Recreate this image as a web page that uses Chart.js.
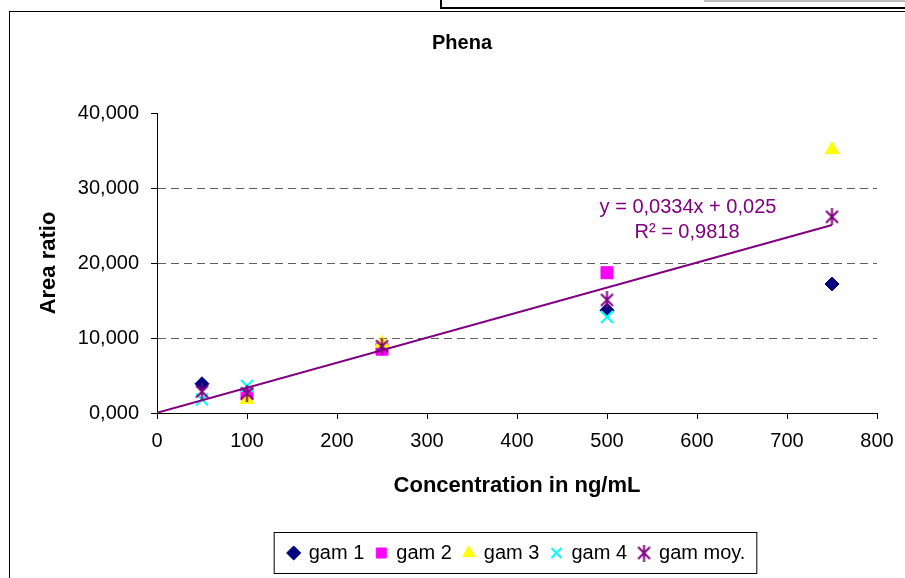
<!DOCTYPE html>
<html>
<head>
<meta charset="utf-8">
<title>Phena</title>
<script src="https://cdn.jsdelivr.net/npm/chart.js@4.4.0/dist/chart.umd.min.js"></script>
<style>
    html, body { margin: 0; padding: 0; background: #fff; }
    #wrap { position: relative; width: 905px; height: 578px; overflow: hidden; }
    .frame { position: absolute; left: 9px; top: 11px; width: 1000px; height: 700px; border: 1px solid #000; }
    .topbox { position: absolute; left: 440px; top: -4px; width: 600px; height: 9px; border: 2px solid #000; }
    .grayline { position: absolute; left: 704px; top: 0; width: 201px; height: 2px; background: #c0c0c0; }
    canvas { position: absolute; left: 0; top: 0; }
</style>
</head>
<body>
<div id="wrap">
    <div class="frame"></div>
    <div class="topbox"></div>
    <div class="grayline"></div>
    <canvas id="mainChart" width="905" height="578"></canvas>
</div>
<script>
// concentrations (ng/mL) and area ratios, null = no point
const concentrations = [50, 100, 250, 500, 750];
const gam1 = [3.9, null, null, 13.7, 17.2];
const gam2 = [null, 2.5, 8.5, 18.7, null];
const gam3 = [null, 1.8, 9.3, null, 35.1];
const gam4 = [1.8, 3.6, null, 12.8, null];
const gamMoy = [2.85, 2.63, 8.9, 15.07, 26.15];

// trendline ends, from the printed equation
const trendX = [0, 750];
const trendY = [0.025, 25.075];

const xTicks = [0, 100, 200, 300, 400, 500, 600, 700, 800];
const yTicks = [0, 10, 20, 30, 40];

const FONT = "'Liberation Sans', Arial, sans-serif";
Chart.defaults.font.family = FONT;
Chart.defaults.color = '#000';

const toPoints = (arr) => concentrations
    .map((x, i) => ({ x: x, y: arr[i] }))
    .filter(p => p.y !== null);

const starMarker = (w, h, color) => {
    const c = document.createElement('canvas');
    c.width = w; c.height = h;
    const g = c.getContext('2d');
    g.strokeStyle = color;
    g.lineWidth = 2;
    const mx = w / 2, my = h / 2, d = w / 2 - 1.5;
    g.beginPath();
    g.moveTo(mx - d, my - d); g.lineTo(mx + d, my + d);
    g.moveTo(mx + d, my - d); g.lineTo(mx - d, my + d);
    g.moveTo(mx, 0); g.lineTo(mx, h);
    g.stroke();
    return c;
};

const chartText = {
    id: 'chartText',
    afterDraw(chart) {
        const ctx = chart.ctx;
        const area = chart.chartArea;
        ctx.save();
        ctx.textAlign = 'center';
        ctx.textBaseline = 'middle';
        // title
        ctx.fillStyle = '#000';
        ctx.font = `bold 20px ${FONT}`;
        ctx.fillText('Phena', 462, 43);
        // trendline label
        ctx.fillStyle = '#800080';
        ctx.font = `20px ${FONT}`;
        ctx.fillText('y = 0,0334x + 0,025', area.left + 531, area.top + 94);
        ctx.fillText('R² = 0,9818', area.left + 530, area.top + 119);
        // legend frame
        const boxes = chart.legend.legendHitBoxes;
        if (boxes && boxes.length) {
            const first = boxes[0], last = boxes[boxes.length - 1];
            ctx.strokeStyle = '#000';
            ctx.lineWidth = 1;
            ctx.strokeRect(first.left - 14.5, first.top - 10.5, last.left + last.width - first.left + 26, first.height + 21);
        }
        ctx.restore();
    }
};

new Chart(document.getElementById('mainChart'), {
    type: 'scatter',
    data: {
        datasets: [
            { label: 'gam 1', data: toPoints(gam1), pointStyle: 'rectRot', pointRadius: 7, backgroundColor: '#000080', borderColor: '#000080', borderWidth: 1, order: 5 },
            { label: 'gam 2', data: toPoints(gam2), pointStyle: 'rect', pointRadius: 8.5, backgroundColor: '#ff00ff', borderColor: '#ff00ff', borderWidth: 1, order: 4 },
            { label: 'gam 3', data: toPoints(gam3), pointStyle: 'triangle', pointRadius: 8, backgroundColor: '#ffff00', borderColor: '#ffff00', borderWidth: 1, order: 3 },
            { label: 'gam 4', data: toPoints(gam4), pointStyle: 'crossRot', pointRadius: 8.5, backgroundColor: '#00ffff', borderColor: '#00ffff', borderWidth: 2, order: 2 },
            { label: 'gam moy.', data: toPoints(gamMoy), pointStyle: starMarker(15, 17, '#800080'), backgroundColor: '#800080', borderColor: '#800080', borderWidth: 2, order: 1 },
            {
                label: 'trend', type: 'line',
                data: trendX.map((x, i) => ({ x: x, y: trendY[i] })),
                borderColor: '#800080', borderWidth: 2, pointRadius: 0, fill: false, order: 0
            }
        ]
    },
    options: {
        responsive: false,
        animation: false,
        events: [],
        layout: { padding: { left: 10, right: 28, top: 113, bottom: 5 } },
        plugins: {
            tooltip: { enabled: false },
            legend: {
                position: 'bottom',
                fullSize: false,
                labels: {
                    usePointStyle: true,
                    boxWidth: 10,
                    boxHeight: 10,
                    padding: 12,
                    color: '#000',
                    font: { size: 20 },
                    filter: (item) => item.text !== 'trend',
                    sort: (a, b) => a.datasetIndex - b.datasetIndex
                }
            }
        },
        scales: {
            x: {
                type: 'linear',
                min: xTicks[0],
                max: xTicks[xTicks.length - 1],
                afterBuildTicks: (s) => { s.ticks = xTicks.map(v => ({ value: v })); },
                afterFit: (s) => { s.height = 118; },
                ticks: { font: { size: 20 }, padding: 10, color: '#000' },
                grid: { drawOnChartArea: false, tickLength: 6, tickColor: '#000' },
                border: { color: '#000', width: 1 },
                title: {
                    display: true,
                    text: 'Concentration in ng/mL',
                    font: { size: 22, weight: 'bold' },
                    padding: { top: 0, bottom: 32 }
                }
            },
            y: {
                min: yTicks[0],
                max: yTicks[yTicks.length - 1],
                afterBuildTicks: (s) => { s.ticks = yTicks.map(v => ({ value: v })); },
                afterFit: (s) => { s.width = 147; },
                ticks: {
                    font: { size: 20 },
                    padding: 12,
                    color: '#000',
                    callback: (v) => v.toFixed(3).replace('.', ',')
                },
                grid: {
                    tickLength: 6,
                    tickColor: '#000',
                    color: (c) => (c.tick && c.tick.value > yTicks[0] && c.tick.value < yTicks[yTicks.length - 1]) ? '#606060' : 'rgba(0,0,0,0)'
                },
                border: { color: '#000', width: 1, dash: [8, 5] },
                title: {
                    display: true,
                    text: 'Area ratio',
                    font: { size: 22, weight: 'bold' },
                    padding: { top: 26, bottom: 0 }
                }
            }
        }
    },
    plugins: [chartText]
});
</script>
</body>
</html>
